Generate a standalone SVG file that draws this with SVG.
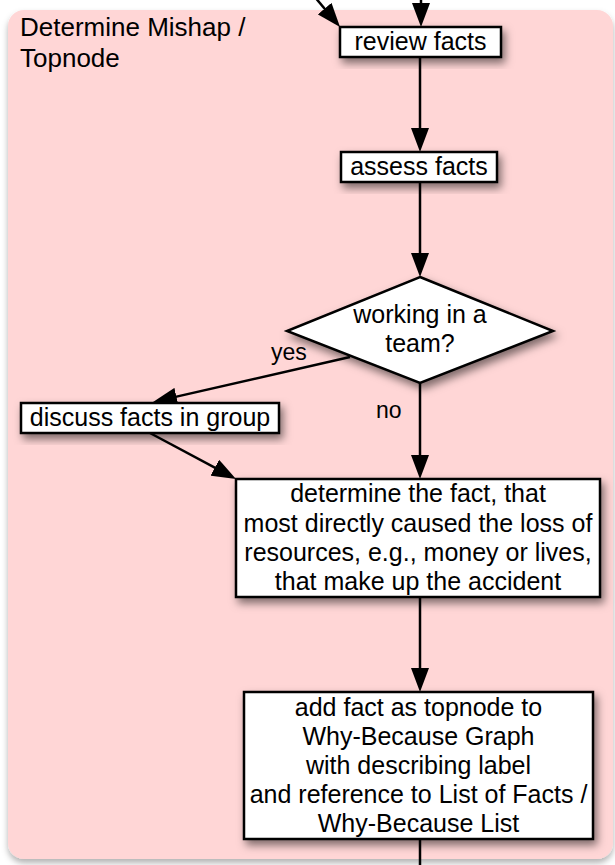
<svg xmlns="http://www.w3.org/2000/svg" width="615" height="865" viewBox="0 0 615 865">
<defs>
<filter id="sh" x="-20%" y="-20%" width="150%" height="160%">
<feDropShadow dx="3" dy="5" stdDeviation="4" flood-color="#000" flood-opacity="0.5"/>
</filter>
<filter id="psh" x="-5%" y="-5%" width="110%" height="110%">
<feDropShadow dx="0" dy="4" stdDeviation="3" flood-color="#000" flood-opacity="0.3"/>
</filter>
<marker id="ah" viewBox="0 0 24 18" markerWidth="24" markerHeight="18" refX="19" refY="9" orient="auto" markerUnits="userSpaceOnUse">
<path d="M0,0 L24,9 L0,18 z" fill="#000"/>
</marker>
</defs>
<style>
.box{fill:#fff;stroke:#000;stroke-width:2.5;filter:url(#sh)}
.t{font-family:"Liberation Sans",Arial,Helvetica,sans-serif;font-size:25px;fill:#000;text-anchor:middle}
.lbl{font-family:"Liberation Sans",Arial,Helvetica,sans-serif;font-size:23px;fill:#000}
.ttl{font-family:"Liberation Sans",Arial,Helvetica,sans-serif;font-size:26px;fill:#000}
.c{stroke:#000;stroke-width:2.5;fill:none}
.ca{stroke:#000;stroke-width:2.5;fill:none;marker-end:url(#ah)}
</style>
<g id="panel">
<rect x="8" y="10" width="605" height="849" rx="16" ry="16" fill="#FFD6D6" filter="url(#psh)"/>
<text class="ttl" x="20" y="36">Determine Mishap /</text>
<text class="ttl" x="20" y="67">Topnode</text>
</g>
<g id="connectors">
<path class="ca" d="M314,-4 L336.8,23.2"/>
<path class="ca" d="M421,-4 L421,22"/>
<path class="ca" d="M420,57 L420,147"/>
<path class="ca" d="M420,182 L420,272"/>
<path class="ca" d="M350,357 L157.9,400.9"/>
<path class="ca" d="M420,383 L420,474"/>
<path class="ca" d="M150,433 L231.6,476.6"/>
<path class="ca" d="M420,597 L420,687"/>
<path class="c" d="M420,839 L420,870"/>
<text class="lbl" x="271" y="360">yes</text>
<text class="lbl" x="376" y="418">no</text>
</g>
<g id="review-facts">
<rect class="box" x="340" y="27" width="161" height="30"/>
<text class="t" x="420.5" y="50">review facts</text>
</g>
<g id="assess-facts">
<rect class="box" x="341" y="152" width="156" height="30"/>
<text class="t" x="419" y="175">assess facts</text>
</g>
<g id="working-in-team">
<polygon class="box" points="420,277 553,331 420,383 287,331"/>
<text class="t" x="420" y="323">working in a</text>
<text class="t" x="420" y="352">team?</text>
</g>
<g id="discuss-facts">
<rect class="box" x="21" y="403" width="258" height="30"/>
<text class="t" x="150" y="426">discuss facts in group</text>
</g>
<g id="determine-fact">
<rect class="box" x="236" y="479" width="364" height="118"/>
<text class="t" x="418" y="502">determine the fact, that</text>
<text class="t" x="418" y="531.5">most directly caused the loss of</text>
<text class="t" x="418" y="561">resources, e.g., money or lives,</text>
<text class="t" x="418" y="590">that make up the accident</text>
</g>
<g id="add-topnode">
<rect class="box" x="244" y="692" width="349" height="147"/>
<text class="t" x="418.5" y="716">add fact as topnode to</text>
<text class="t" x="418.5" y="745">Why-Because Graph</text>
<text class="t" x="418.5" y="774">with describing label</text>
<text class="t" x="418.5" y="803">and reference to List of Facts /</text>
<text class="t" x="418.5" y="832">Why-Because List</text>
</g>
</svg>
